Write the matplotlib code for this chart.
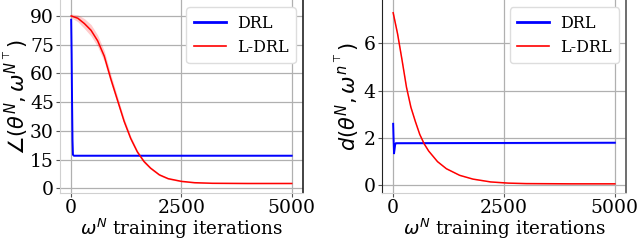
import numpy as np
import matplotlib
matplotlib.use("Agg")
import matplotlib.pyplot as plt

plt.rcParams['font.family'] = ['DejaVu Serif']
plt.rcParams['mathtext.fontset'] = 'dejavusans'

# ---- Left panel data: angle ----
ang_drl_x = [0, 10, 20, 30, 40, 60, 5000]
ang_drl_y = [88, 70, 45, 25, 17.5, 17, 17]
ang_drl_err = [0.3, 0.3, 0.3, 0.3, 0.3, 0.3, 0.3]

ang_ldrl_x = [0, 150, 300, 450, 600, 750, 900, 1050, 1200, 1350, 1500, 1650,
              1800, 2000, 2200, 2500, 2800, 3200, 4000, 5000]
ang_ldrl_y = [90, 88.8, 86, 82.5, 77, 69, 57, 46, 35, 26, 19, 14,
              10.5, 7, 5, 3.6, 2.9, 2.6, 2.5, 2.5]
ang_ldrl_err = [1.0, 1.8, 2.6, 3.0, 3.0, 2.8, 2.4, 2.0, 1.6, 1.3, 1.0, 0.8,
                0.6, 0.5, 0.4, 0.3, 0.25, 0.2, 0.2, 0.2]

# ---- Right panel data: distance ----
dist_drl_x = [0, 10, 20, 30, 45, 60, 5000]
dist_drl_y = [2.6, 1.9, 1.35, 1.5, 1.72, 1.78, 1.8]
dist_drl_err = [0.05, 0.05, 0.05, 0.04, 0.04, 0.04, 0.04]

dist_ldrl_x = [0, 100, 200, 300, 400, 500, 600, 700, 800, 1000, 1200, 1500,
               1800, 2200, 2600, 3000, 4000, 5000]
dist_ldrl_y = [7.3, 6.4, 5.3, 4.15, 3.3, 2.7, 2.15, 1.75, 1.45, 1.0, 0.7, 0.42,
               0.26, 0.14, 0.09, 0.07, 0.06, 0.06]
dist_ldrl_err = [0.05, 0.05, 0.05, 0.04, 0.04, 0.03, 0.03, 0.03, 0.02, 0.02, 0.02,
                 0.01, 0.01, 0.01, 0.01, 0.01, 0.01, 0.01]

xticks = [0, 2500, 5000]

fig = plt.figure(figsize=(6.4, 2.41), dpi=100)
ax1 = fig.add_axes([0.094, 0.199, 0.379, 0.80])
ax2 = fig.add_axes([0.597, 0.199, 0.381, 0.80])

def style(ax, left_col, right_col):
    ax.grid(True, color='#b0b0b0', linewidth=0.9)
    ax.set_axisbelow(True)
    ax.spines['top'].set_visible(False)
    ax.spines['bottom'].set_color('#d0d0d0')
    ax.spines['left'].set_color(left_col)
    ax.spines['right'].set_color(right_col)
    ax.spines['right'].set_linewidth(1.2)
    ax.tick_params(labelsize=13.5, length=3, color='#555555', pad=1.5)
    ax.set_xticks(xticks)
    ax.set_xlim(-250, 5250)
    ax.set_xlabel(r'$\omega^N$ training iterations', fontsize=13.2, labelpad=-0.5)

def band(ax, x, y, e, color, alpha):
    x = np.asarray(x); y = np.asarray(y); e = np.asarray(e)
    ax.fill_between(x, y - e, y + e, color=color, alpha=alpha, linewidth=0)

def legend(ax):
    leg = ax.legend(loc='upper right', fontsize=11.5, framealpha=1, edgecolor='#dddddd',
                    handlelength=2.0, handletextpad=0.7, labelspacing=0.45,
                    borderaxespad=0.45, borderpad=0.45)
    leg.get_lines()[0].set_linewidth(2.0)
    leg.get_lines()[1].set_linewidth(1.2)

band(ax1, ang_ldrl_x, ang_ldrl_y, ang_ldrl_err, '#ff0000', 0.2)
band(ax1, ang_drl_x, ang_drl_y, ang_drl_err, '#0000ff', 0.2)
ax1.plot(ang_drl_x, ang_drl_y, color='#0000ff', lw=1.4, label='DRL')
ax1.plot(ang_ldrl_x, ang_ldrl_y, color='#ff0000', lw=1.1, label='L-DRL')
style(ax1, '#d0d0d0', '#222222')
ax1.set_ylim(-2.5, 98.2)
ax1.set_yticks([0, 15, 30, 45, 60, 75, 90])
ax1.set_ylabel(r'$\angle(\theta^N, \omega^{N^\top})$', fontsize=15, labelpad=0)
legend(ax1)

band(ax2, dist_ldrl_x, dist_ldrl_y, dist_ldrl_err, '#ff0000', 0.2)
band(ax2, dist_drl_x, dist_drl_y, dist_drl_err, '#0000ff', 0.2)
ax2.plot(dist_drl_x, dist_drl_y, color='#0000ff', lw=1.4, label='DRL')
ax2.plot(dist_ldrl_x, dist_ldrl_y, color='#ff0000', lw=1.1, label='L-DRL')
style(ax2, '#222222', '#555555')
ax2.set_ylim(-0.33, 7.83)
ax2.set_yticks([0, 2, 4, 6])
ax2.set_ylabel(r'$d(\theta^N, \omega^{n^\top})$', fontsize=15, labelpad=2)
legend(ax2)

fig.savefig('out.png', dpi=100)
